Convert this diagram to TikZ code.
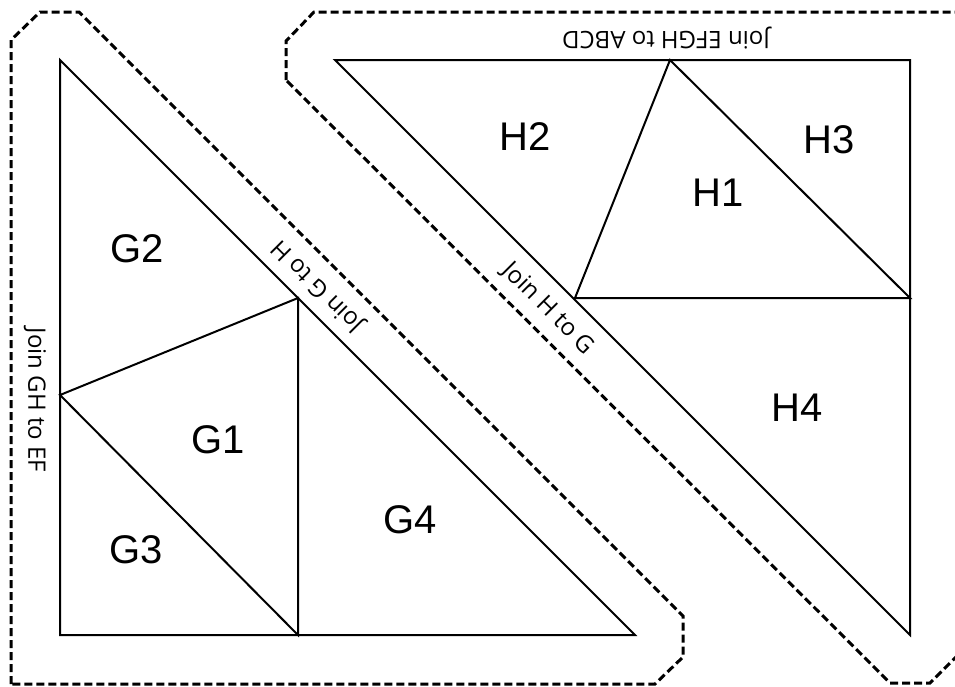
\documentclass[tikz,border=0pt]{standalone}
\usepackage{fontspec}
\setmainfont{Liberation Sans}
\newfontfamily\joinfont{Open Sans}
\begin{document}
\begin{tikzpicture}[x=1pt,y=-1pt,
  piece/.style={draw=black,line width=2pt,line join=miter},
  cutline/.style={draw=black,line width=3pt,dash pattern=on 8pt off 4pt},
  lbl/.style={font=\fontsize{40}{40}\selectfont,inner sep=0pt},
  joinlbl/.style={font=\joinfont\fontsize{24}{24}\selectfont,inner sep=0pt}]
\useasboundingbox (0,0) rectangle (955,686);
\begin{scope}
\clip (0,0) rectangle (955,686);
% left block
\coordinate (GA) at (60,60);
\coordinate (GB) at (60,635);
\coordinate (GC) at (635,635);
\coordinate (GP) at (298,298);
\coordinate (GL) at (60,395);
\coordinate (GQ) at (298,635);
\draw[piece] (GA) -- (GB) -- (GC) -- cycle;
\draw[piece] (GL) -- (GP) -- (GQ) -- cycle;
% right block
\coordinate (HA) at (335,60);
\coordinate (HB) at (910,60);
\coordinate (HC) at (910,635);
\coordinate (HT) at (670,60);
\coordinate (HP) at (575,298);
\coordinate (HR) at (910,298);
\draw[piece] (HA) -- (HB) -- (HC) -- cycle;
\draw[piece] (HT) -- (HP) -- (HR) -- cycle;
% dashed outlines
\draw[cutline] (11,684) -- (11,40) -- (40,12) -- (79,12) -- (683,616) -- (683,657) -- (655,684) -- cycle;
\draw[cutline] (286,80) -- (286,41) -- (314,12) -- (985,12) -- (985,628) -- (930,683) -- (890,683) -- cycle;
\end{scope}
% labels
\node[lbl] (g2) at (137,249) {G2};
\node[lbl] (g1) at (218,440) {G1};
\node[lbl] (g3) at (136,550) {G3};
\node[lbl] (g4) at (410,520) {G4};
\node[lbl] (h2) at (525,137) {H2};
\node[lbl] (h3) at (829,140) {H3};
\node[lbl] (h1) at (718,193) {H1};
\node[lbl] (h4) at (797,408) {H4};
\node[joinlbl,rotate=180] (j1) at (666,38) {Join EFGH to ABCD};
\node[joinlbl,rotate=-90] (j2) at (35,400) {Join GH to EF};
\node[joinlbl,rotate=135] (j3) at (318,286) {Join G to H};
\node[joinlbl,rotate=-45] (j4) at (548,309) {Join H to G};
\end{tikzpicture}
\end{document}
